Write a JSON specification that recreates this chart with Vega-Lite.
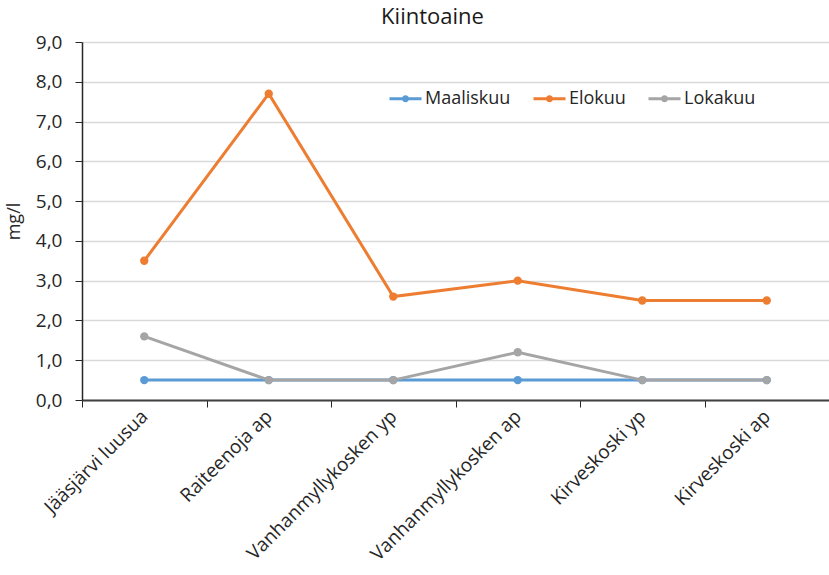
{
  "$schema": "https://vega.github.io/schema/vega-lite/v6.json",
  "autosize": "none",
  "width": 747,
  "height": 358,
  "padding": {"left": 82, "top": 42, "right": 0, "bottom": 175},
  "background": "white",
  "title": {"text": "Kiintoaine", "font": "Open Sans", "fontSize": 22, "fontWeight": "normal", "color": "#1a1a1a", "anchor": "middle", "offset": 4, "dx": -23},
  "data": {"values": [
    {"site": "Jääsjärvi luusua", "month": "Maaliskuu", "v": 0.5},
    {"site": "Raiteenoja ap", "month": "Maaliskuu", "v": 0.5},
    {"site": "Vanhanmyllykosken yp", "month": "Maaliskuu", "v": 0.5},
    {"site": "Vanhanmyllykosken ap", "month": "Maaliskuu", "v": 0.5},
    {"site": "Kirveskoski yp", "month": "Maaliskuu", "v": 0.5},
    {"site": "Kirveskoski ap", "month": "Maaliskuu", "v": 0.5},
    {"site": "Jääsjärvi luusua", "month": "Elokuu", "v": 3.5},
    {"site": "Raiteenoja ap", "month": "Elokuu", "v": 7.7},
    {"site": "Vanhanmyllykosken yp", "month": "Elokuu", "v": 2.6},
    {"site": "Vanhanmyllykosken ap", "month": "Elokuu", "v": 3.0},
    {"site": "Kirveskoski yp", "month": "Elokuu", "v": 2.5},
    {"site": "Kirveskoski ap", "month": "Elokuu", "v": 2.5},
    {"site": "Jääsjärvi luusua", "month": "Lokakuu", "v": 1.6},
    {"site": "Raiteenoja ap", "month": "Lokakuu", "v": 0.5},
    {"site": "Vanhanmyllykosken yp", "month": "Lokakuu", "v": 0.5},
    {"site": "Vanhanmyllykosken ap", "month": "Lokakuu", "v": 1.2},
    {"site": "Kirveskoski yp", "month": "Lokakuu", "v": 0.5},
    {"site": "Kirveskoski ap", "month": "Lokakuu", "v": 0.5}
  ]},
  "mark": {"type": "line", "strokeWidth": 3, "point": {"filled": true, "size": 70}},
  "encoding": {
    "x": {
      "field": "site", "type": "nominal", "sort": null, "bandPosition": 0.5,
      "scale": {"type": "band", "paddingInner": 0, "paddingOuter": 0},
      "axis": {
        "title": null, "labelAngle": -45, "labelAlign": "right", "labelBaseline": "middle",
        "labelFont": "Open Sans", "labelFontSize": 19, "labelColor": "#262626", "labelPadding": 6, "labelLimit": 0,
        "tickBand": "extent", "tickSize": 7, "tickColor": "#262626", "domainColor": "#404040", "domainWidth": 2, "grid": false, "labelOverlap": false
      }
    },
    "y": {
      "field": "v", "type": "quantitative",
      "scale": {"domain": [0, 9], "nice": false},
      "axis": {
        "title": "mg/l", "titleFont": "Open Sans", "titleFontSize": 18, "titleFontWeight": "normal", "titleColor": "#262626", "titlePadding": 12,
        "values": [0, 1, 2, 3, 4, 5, 6, 7, 8, 9],
        "labelExpr": "replace(format(datum.value, '.1f'), '.', ',')",
        "labelFont": "Open Sans", "labelFontSize": 19, "labelColor": "#262626", "labelPadding": 13,
        "tickSize": 7, "tickColor": "#262626", "domainColor": "#262626", "domainWidth": 1.5,
        "grid": true, "gridColor": "#d9d9d9", "gridWidth": 1.5
      }
    },
    "color": {
      "field": "month", "type": "nominal", "sort": ["Maaliskuu", "Elokuu", "Lokakuu"],
      "scale": {"domain": ["Maaliskuu", "Elokuu", "Lokakuu"], "range": ["#5b9bd5", "#ed7d31", "#a5a5a5"]},
      "legend": {
        "title": null, "orient": "none", "direction": "horizontal", "legendX": 306, "legendY": 39,
        "labelFont": "Open Sans", "labelFontSize": 18, "labelColor": "#262626", "labelOffset": 2,
        "symbolType": "M-1,0H1M-0.13,0A0.13,0.13 0 1,0 0.13,0A0.13,0.13 0 1,0 -0.13,0", "symbolSize": 1024, "symbolStrokeWidth": 3, "columnPadding": 16
      }
    }
  },
  "config": {"view": {"stroke": null}}
}
